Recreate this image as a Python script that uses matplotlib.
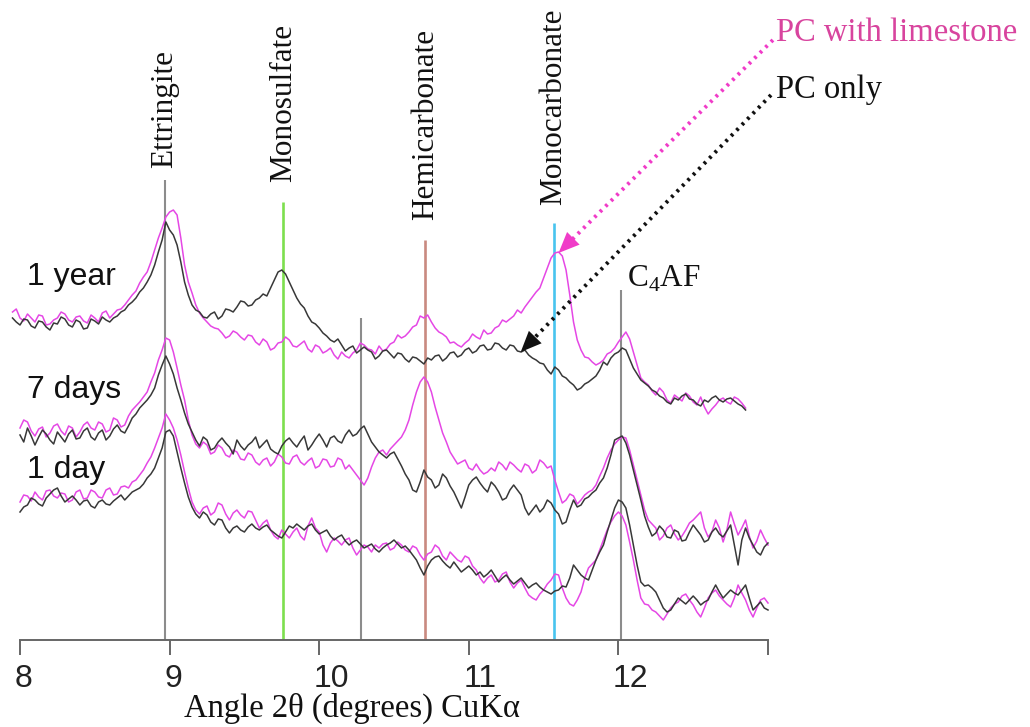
import numpy as np
import matplotlib
matplotlib.use("Agg")
import matplotlib.pyplot as plt
from matplotlib.transforms import ScaledTranslation

# ---------------------------------------------------------------
# XRD patterns (offset intensity, arbitrary units), step 0.025 deg 2-theta
# ---------------------------------------------------------------
STEP = 0.025

year1_start = 7.95
year1_limestone = [
    328, 331, 322, 319, 326, 322, 318, 325, 324, 315, 316, 320, 322, 328, 326, 320,
    318, 323, 324, 319, 317, 325, 322, 318, 327, 329, 322, 326, 330, 331, 335, 340,
    345, 349, 357, 363, 368, 378, 390, 402, 412, 423, 428, 430, 425, 402, 375, 358,
    347, 335, 327, 322, 318, 314, 312, 311, 307, 302, 304, 309, 307, 303, 300, 305,
    304, 298, 295, 301, 298, 290, 292, 297, 298, 303, 300, 294, 293, 296, 299, 291,
    288, 295, 293, 287, 289, 292, 285, 281, 288, 284, 282, 287, 290, 297, 295, 291,
    290, 286, 294, 289, 291, 296, 298, 305, 302, 304, 308, 313, 315, 324, 322, 325,
    318, 312, 308, 306, 303, 297, 298, 295, 293, 297, 300, 306, 303, 301, 310, 306,
    307, 312, 314, 320, 318, 321, 324, 330, 327, 333, 338, 343, 348, 352, 362, 372,
    382, 387, 388, 384, 370, 345, 318, 300, 290, 283, 282, 278, 275, 277, 280, 286,
    288, 292, 298, 303, 308, 301, 288, 275, 262, 258, 255, 249, 245, 252, 248, 240,
    237, 245, 242, 239, 247, 244, 238, 235, 243, 233, 226, 231, 235, 240, 242, 238,
    236, 243, 241, 237, 232]
year1_pc = [
    322, 318, 315, 321, 320, 314, 312, 319, 318, 313, 310, 317, 316, 323, 321, 315,
    313, 320, 318, 311, 312, 321, 319, 316, 323, 320, 318, 322, 324, 328, 330, 335,
    338, 342, 348, 352, 358, 365, 375, 388, 400, 418, 410, 405, 395, 378, 358, 345,
    335, 330, 328, 323, 322, 326, 328, 321, 324, 331, 330, 328, 333, 339, 338, 334,
    335, 340, 342, 346, 344, 352, 360, 368, 370, 366, 358, 350, 342, 336, 332, 324,
    318, 316, 312, 307, 304, 300, 298, 301, 295, 289, 292, 294, 287, 290, 293, 290,
    288, 281, 284, 289, 290, 286, 282, 287, 286, 281, 278, 283, 282, 279, 276, 282,
    280, 284, 285, 279, 282, 287, 288, 283, 285, 290, 292, 287, 289, 294, 295, 290,
    291, 297, 296, 292, 290, 295, 294, 289, 288, 290, 285, 282, 280, 277, 276, 270,
    266, 273, 270, 264, 262, 258, 255, 250, 252, 256, 258, 261, 264, 270, 278, 275,
    282, 286, 288, 292, 290, 281, 272, 266, 260, 257, 254, 250, 248, 244, 242, 238,
    236, 242, 240, 244, 246, 241, 240, 236, 234, 240, 238, 242, 244, 240, 238, 241,
    242, 239, 236, 234, 230]

days7_start = 8.00
days7_limestone = [
    212, 220, 218, 209, 204, 211, 213, 203, 207, 214, 216, 209, 205, 214, 212, 203,
    208, 215, 218, 212, 210, 218, 216, 208, 210, 222, 220, 213, 215, 224, 230, 234,
    238, 243, 248, 258, 267, 280, 290, 302, 300, 288, 272, 255, 240, 220, 205, 196,
    192, 198, 195, 186, 188, 195, 192, 185, 183, 190, 188, 181, 180, 187, 185, 178,
    175, 180, 182, 174, 178, 186, 183, 177, 176, 183, 185, 178, 175, 179, 182, 172,
    174, 181, 180, 173, 174, 182, 180, 171, 175, 170, 165, 160, 155, 162, 173, 182,
    188, 190, 185, 191, 195, 199, 203, 210, 220, 235, 248, 258, 263, 258, 248, 233,
    220, 207, 198, 188, 182, 176, 178, 180, 172, 170, 176, 170, 166, 168, 172, 169,
    178, 175, 170, 178, 175, 171, 168, 176, 174, 167, 170, 180, 177, 172, 174, 160,
    148, 137, 140, 146, 144, 136, 140, 145, 148, 150, 155, 164, 172, 182, 190, 196,
    200, 203, 202, 190, 175, 160, 145, 130, 120, 116, 112, 100, 104, 112, 115, 106,
    100, 104, 110, 117, 120, 124, 128, 112, 103, 108, 120, 112, 98, 110, 128, 116,
    105, 112, 120, 104, 92, 99, 110, 102, 95]
days7_pc = [
    205, 198, 212, 204, 195, 203, 210, 206, 200, 196, 208, 203, 198, 206, 210, 201,
    202, 209, 212, 203, 200, 207, 210, 200, 204, 211, 215, 209, 207, 214, 222, 226,
    232, 236, 240, 245, 252, 265, 275, 284, 276, 266, 252, 240, 227, 216, 208, 200,
    194, 203, 200, 190, 192, 198, 202, 197, 193, 186, 200, 194, 190, 195, 198, 203,
    192, 196, 200, 191, 188, 186, 194, 199, 202, 197, 193, 199, 204, 190, 195, 201,
    206, 200, 193, 202, 204, 199, 197, 205, 210, 204, 206, 211, 214, 206, 198, 193,
    188, 185, 182, 186, 188, 181, 174, 166, 160, 150, 148, 158, 170, 163, 160, 152,
    155, 166, 162, 154, 148, 140, 132, 143, 155, 160, 163, 157, 152, 148, 158, 154,
    148, 140, 142, 150, 155, 150, 145, 132, 125, 130, 135, 128, 132, 140, 137, 130,
    126, 116, 118, 130, 140, 133, 135, 141, 143, 147, 150, 157, 162, 172, 185, 200,
    202, 204, 197, 185, 170, 155, 140, 124, 113, 104, 107, 114, 110, 103, 102, 110,
    108, 99, 100, 108, 115, 110, 105, 98, 100, 108, 112, 106, 103, 109, 115, 95,
    75, 100, 112, 102, 95, 88, 85, 93, 97]

day1_start = 8.00
day1_limestone = [
    138, 145, 144, 139, 148, 143, 140, 149, 150, 144, 142, 147, 146, 138, 140, 148,
    150, 141, 142, 150, 148, 143, 142, 150, 152, 145, 146, 153, 154, 152, 158, 160,
    165, 170, 177, 183, 192, 202, 212, 226, 220, 212, 200, 185, 168, 152, 138, 130,
    126, 132, 134, 125, 128, 137, 135, 126, 120, 127, 130, 125, 122, 129, 128, 120,
    112, 117, 120, 110, 104, 101, 110, 106, 102, 108, 112, 104, 100, 114, 122, 112,
    108, 95, 88, 97, 102, 99, 95, 100, 102, 92, 85, 90, 95, 93, 88, 95,
    92, 96, 97, 90, 92, 98, 95, 90, 88, 94, 92, 85, 80, 86, 88, 95,
    92, 84, 80, 88, 84, 80, 78, 84, 82, 74, 70, 62, 57, 62, 65, 58,
    60, 66, 68, 58, 52, 57, 60, 52, 45, 42, 40, 46, 50, 56, 60, 66,
    65, 52, 42, 36, 34, 40, 48, 62, 72, 76, 80, 90, 100, 110, 118, 124,
    128, 124, 115, 98, 80, 60, 42, 36, 35, 30, 28, 24, 20, 26, 32, 36,
    38, 44, 46, 40, 35, 28, 23, 32, 42, 47, 50, 44, 40, 36, 33, 42,
    55, 47, 40, 30, 23, 32, 40, 42, 37]
day1_pc = [
    128, 133, 135, 142, 140, 136, 134, 142, 146, 150, 152, 144, 138, 141, 144, 140,
    135, 139, 140, 134, 132, 138, 140, 136, 135, 139, 142, 145, 140, 144, 148, 150,
    152, 156, 162, 166, 172, 182, 192, 208, 210, 204, 188, 172, 157, 143, 133, 126,
    122, 128, 125, 118, 115, 121, 120, 112, 107, 112, 114, 110, 108, 113, 116, 112,
    110, 113, 115, 110, 107, 104, 102, 108, 114, 112, 116, 113, 110, 114, 116, 110,
    106, 108, 110, 104, 100, 103, 105, 99, 95, 98, 100, 96, 92, 94, 96, 91,
    88, 92, 95, 97, 100, 96, 92, 94, 90, 85, 80, 72, 65, 74, 80, 83,
    84, 79, 75, 72, 78, 73, 68, 71, 74, 70, 65, 68, 63, 66, 70, 64,
    58, 62, 65, 60, 56, 59, 62, 57, 52, 55, 57, 53, 50, 48, 46, 49,
    50, 54, 53, 62, 75, 70, 65, 62, 60, 70, 80, 88, 95, 108, 120, 132,
    140, 138, 132, 115, 95, 75, 58, 54, 55, 52, 48, 40, 32, 28, 30, 36,
    42, 39, 36, 40, 44, 40, 35, 38, 40, 48, 55, 48, 42, 46, 50, 47,
    45, 50, 55, 42, 30, 34, 38, 32, 30]

# reference positions (deg 2-theta) and marker heights
phase_names = ["Ettringite", "Monosulfate", "Hemicarbonate", "Monocarbonate"]
phase_pos = [8.97, 9.76, 10.71, 11.57]
phase_top = [460, 438, 400, 417]
phase_label_base = [472, 458, 420, 435]
phase_colors = ["#8c8c8c", "#7ddf4e", "#c98a80", "#48c4ee"]

extra_pos = [10.28, 12.02]
extra_top = [322, 350]

age_labels = ["1 year", "7 days", "1 day"]
age_label_y = [363, 250, 170]

tick_values = [8, 9, 10, 11, 12, 13]
tick_labels = ["8", "9", "10", "11", "12", ""]

MAGENTA = "#e547e5"
DARK = "#383838"

fig = plt.figure(figsize=(10.30, 7.27), dpi=100)
ax = fig.add_axes([20 / 1030, 87 / 727, 748 / 1030, 640 / 727])
ax.set_xlim(8, 13)
ax.set_ylim(0, 640)

# reference lines
for x, top, col in zip(phase_pos, phase_top, phase_colors):
    ax.vlines(x, 0, top, color=col, lw=1.9 if col != "#8c8c8c" else 1.5, zorder=1)
for x, top in zip(extra_pos, extra_top):
    ax.vlines(x, 0, top, color="#8c8c8c", lw=1.5, zorder=1)

def scan(start, values):
    return start + STEP * np.arange(len(values)), np.asarray(values, dtype=float)

for start, lime, pc in [(year1_start, year1_limestone, year1_pc),
                        (days7_start, days7_limestone, days7_pc),
                        (day1_start, day1_limestone, day1_pc)]:
    x, y = scan(start, lime)
    ax.plot(x, y, color=MAGENTA, lw=1.1, clip_on=False, zorder=2)
    x, y = scan(start, pc)
    ax.plot(x, y, color=DARK, lw=1.1, clip_on=False, zorder=3)

serif = "Liberation Serif"
sans = "Liberation Sans"

for name, x, base in zip(phase_names, phase_pos, phase_label_base):
    ax.text(x, base, name, rotation=90, ha="center", va="bottom",
            family=serif, fontsize=22.5, color="#111111")

ax.text(12.055, 353, r"C$_\mathregular{4}$AF", ha="left", va="baseline",
        family=serif, fontsize=22.5, color="#111111")

for lab, y in zip(age_labels, age_label_y):
    ax.text(8.05, y, lab, ha="left", va="center", family=sans,
            fontsize=23, color="#111111")

# legend-style pointers: dotted shaft plus a solid head
def pointer(text, text_xy, start, tip, color, tcolor):
    ax.text(text_xy[0], text_xy[1], text, ha="left", va="center", family=serif,
            fontsize=23.5, color=tcolor, clip_on=False)
    ax.annotate("", xy=tip, xytext=start, annotation_clip=False,
                arrowprops=dict(arrowstyle="-", linestyle=(0, (0.7, 1.3)), lw=2.8,
                                color=color, shrinkA=0, shrinkB=12,
                                capstyle="butt"))
    ax.annotate("", xy=tip, xytext=start, annotation_clip=False,
                arrowprops=dict(arrowstyle="-|>,head_length=0.75,head_width=0.32",
                                mutation_scale=20, lw=0, color=color,
                                shrinkA=0, shrinkB=0))

pointer("PC with limestone", (13.053, 607), (13.033, 600), (11.6, 387), "#f03cc8", "#d8449e")
pointer("PC only", (13.053, 550), (13.02, 545), (11.347, 288), "#111111", "#111111")

# axes styling
for s in ["left", "right", "top"]:
    ax.spines[s].set_visible(False)
ax.spines["bottom"].set_color("#666666")
ax.spines["bottom"].set_linewidth(1.4)
ax.set_yticks([])
ax.set_xticks(tick_values)
ax.set_xticklabels(tick_labels, family=sans, fontsize=23, color="#222222")
ax.tick_params(axis="x", direction="out", length=11, width=1.4, color="#666666", pad=6)
shift = ScaledTranslation(-4 / 72, 0, fig.dpi_scale_trans)
for lbl in ax.get_xticklabels():
    lbl.set_horizontalalignment("left")
    lbl.set_transform(lbl.get_transform() + shift)

fig.text(352 / 1030, 1 - 708 / 727, "Angle 2\u03b8 (degrees) CuK\u03b1", ha="center", va="center",
         family=serif, fontsize=23.5, color="#111111")

fig.savefig("out.png", dpi=100, facecolor="white")
